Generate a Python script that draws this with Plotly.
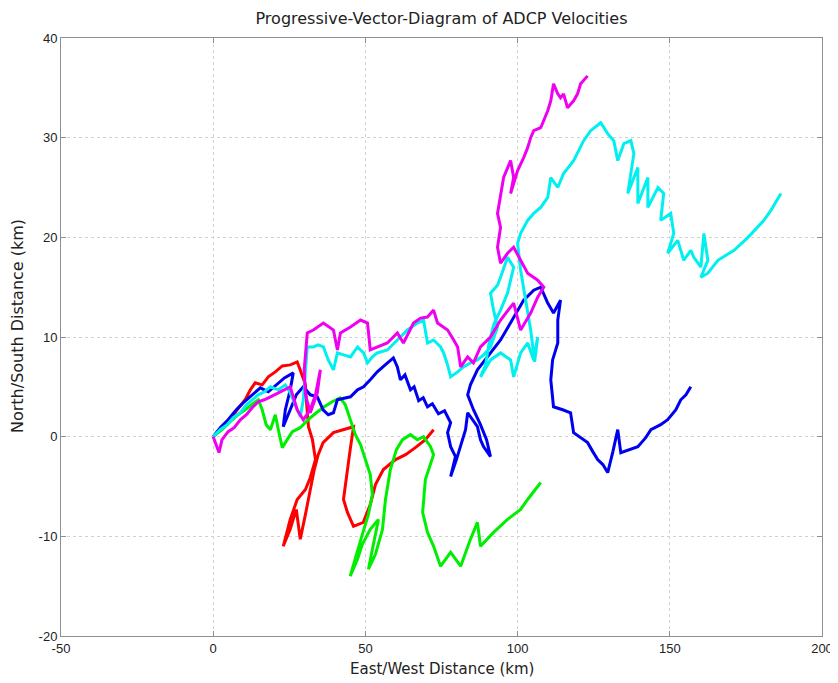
import plotly.graph_objects as go

# East/West (x, km) and North/South (y, km) distances for each record
red_x = [0.0, 2.9, 5.6, 7.9, 10.5, 12.2, 13.8, 16.1, 18.1, 20.4, 22.7, 25.3, 27.6, 28.6, 30.3, 30.6, 31.3, 32.6, 33.6, 31.9, 30.3, 27.6, 25.3, 23.0, 25.3, 27.3, 28.6, 30.3, 31.9, 33.2, 34.5, 36.1, 39.5, 42.8, 46.1, 45.0, 44.1, 42.8, 44.1, 46.1, 49.3, 51.6, 53.3, 55.9, 59.9, 63.2, 66.4, 69.7, 72.4]
red_y = [0.0, 0.9, 1.7, 2.7, 3.7, 4.7, 5.4, 5.2, 6.0, 6.5, 7.1, 7.2, 7.5, 6.7, 5.2, 3.7, 1.0, -0.3, -2.3, -4.1, -5.3, -6.3, -8.3, -11.0, -9.3, -7.3, -10.3, -7.8, -5.3, -3.3, -1.8, -0.6, 0.4, 0.7, 1.0, -1.3, -3.6, -6.3, -7.6, -9.0, -8.6, -6.8, -4.8, -3.3, -2.3, -1.8, -1.1, -0.3, 0.7]

green_x = [0.0, 2.9, 5.6, 8.2, 10.5, 12.8, 14.8, 16.1, 17.4, 18.8, 20.4, 21.4, 22.7, 24.3, 26.0, 28.6, 31.2, 33.9, 36.5, 39.1, 41.7, 43.4, 45.1, 46.7, 48.4, 50.0, 51.6, 52.3, 51.0, 49.0, 47.0, 45.0, 47.4, 49.0, 51.6, 54.3, 52.3, 51.0, 53.3, 55.6, 56.6, 58.2, 60.2, 62.2, 64.8, 67.1, 69.1, 71.4, 72.4, 69.7, 68.8, 70.4, 72.4, 74.7, 78.0, 81.3, 84.5, 86.8, 87.8, 92.1, 96.7, 101.0, 103.3, 107.6]
green_y = [0.0, 0.7, 1.5, 2.2, 2.7, 3.2, 3.7, 2.7, 1.2, 0.7, 2.2, 0.7, -1.1, -0.3, 0.5, 0.9, 1.7, 2.4, 3.0, 3.5, 3.9, 3.2, 1.7, 0.2, -0.8, -2.3, -3.8, -5.8, -7.8, -9.8, -11.8, -14.0, -12.3, -10.8, -9.3, -8.3, -11.3, -13.3, -11.8, -9.3, -6.3, -3.3, -1.3, -0.3, 0.2, -0.3, 0.0, -1.0, -1.8, -4.3, -7.6, -9.6, -11.0, -13.0, -11.6, -13.0, -10.3, -8.6, -11.0, -9.6, -8.3, -7.3, -6.3, -4.6]

blue_x = [0.0, 2.3, 4.9, 7.6, 10.2, 12.8, 15.5, 18.1, 20.7, 23.4, 26.3, 25.3, 23.7, 23.0, 25.3, 27.3, 29.6, 31.9, 34.2, 36.1, 37.8, 39.5, 40.8, 43.4, 45.1, 47.4, 49.4, 51.6, 53.9, 56.5, 59.2, 60.5, 61.5, 63.0, 64.8, 66.0, 67.5, 69.0, 70.4, 72.0, 74.0, 76.0, 78.0, 77.0, 78.0, 79.6, 78.0, 79.9, 81.3, 82.9, 83.6, 85.2, 86.8, 87.8, 88.8, 91.1, 89.8, 87.8, 85.5, 83.6, 84.5, 86.8, 90.1, 92.8, 94.4, 96.7, 98.7, 100.3, 102.0, 105.3, 107.6, 109.9, 111.8, 114.1, 113.2, 113.2, 111.5, 110.9, 111.8, 114.8, 117.4, 118.4, 120.7, 123.0, 124.7, 126.3, 128.0, 129.6, 131.3, 132.9, 133.9, 136.5, 139.5, 142.1, 143.8, 147.0, 149.3, 152.0, 153.6, 155.3, 156.9]
blue_y = [0.0, 0.9, 1.7, 2.7, 3.5, 4.2, 4.9, 4.5, 5.2, 5.9, 6.4, 4.7, 2.7, 1.0, 2.7, 4.2, 5.0, 4.2, 4.0, 2.7, 2.2, 2.4, 3.7, 3.9, 4.0, 4.7, 5.0, 5.7, 6.5, 7.2, 7.9, 7.0, 5.7, 6.2, 4.7, 5.0, 3.6, 3.9, 3.0, 3.3, 2.3, 2.6, 1.4, 0.4, -1.0, -2.0, -4.0, -2.3, -1.0, 0.7, 2.4, 1.7, 1.0, -0.3, -1.0, -2.0, -0.3, 1.2, 2.7, 4.2, 5.2, 6.7, 8.0, 9.0, 9.7, 10.9, 12.0, 12.9, 13.7, 14.7, 15.0, 13.4, 12.4, 13.7, 11.7, 9.4, 7.7, 5.7, 3.0, 2.7, 2.4, 0.4, -0.1, -0.6, -1.5, -2.3, -2.8, -3.6, -1.5, 0.7, -1.6, -1.3, -1.0, -0.1, 0.7, 1.2, 1.7, 2.7, 3.7, 4.2, 5.0]

cyan_x = [0.0, 2.3, 4.6, 6.6, 8.9, 10.9, 12.8, 14.8, 16.8, 18.8, 21.4, 23.7, 25.3, 27.0, 28.6, 29.6, 30.3, 30.9, 32.9, 34.5, 36.2, 37.8, 39.5, 40.8, 42.8, 45.1, 47.4, 49.4, 50.7, 52.3, 53.9, 57.2, 60.5, 63.8, 67.1, 69.1, 70.4, 72.4, 74.7, 75.7, 77.0, 78.0, 80.3, 82.2, 84.5, 86.8, 88.8, 91.1, 93.4, 92.1, 91.1, 93.4, 94.4, 96.7, 98.7, 96.7, 94.4, 92.1, 90.5, 89.5, 87.8, 91.1, 94.4, 97.7, 98.7, 101.0, 103.3, 105.3, 106.6, 105.6, 104.3, 102.6, 101.0, 100.0, 101.0, 103.3, 105.3, 107.6, 109.9, 110.9, 113.2, 115.1, 118.4, 121.7, 124.0, 127.3, 129.6, 131.6, 132.9, 134.9, 137.2, 138.2, 136.2, 139.5, 139.5, 142.8, 142.8, 146.1, 148.0, 147.0, 150.3, 151.3, 149.3, 152.6, 154.6, 156.9, 157.9, 160.2, 161.2, 162.5, 160.2, 162.5, 165.8, 171.1, 175.7, 180.9, 183.2, 186.5]
cyan_y = [0.0, 0.7, 1.2, 1.9, 2.4, 3.2, 3.7, 4.2, 4.5, 5.0, 4.7, 5.2, 4.4, 3.2, 2.0, 3.7, 6.2, 9.0, 9.0, 9.2, 9.0, 7.7, 6.7, 8.4, 8.2, 8.0, 9.0, 8.4, 7.4, 8.0, 8.4, 8.7, 9.7, 10.7, 11.4, 11.7, 9.4, 9.7, 9.0, 8.4, 7.2, 6.0, 6.5, 7.0, 7.4, 7.7, 8.2, 9.0, 11.0, 12.7, 14.4, 15.2, 16.0, 18.0, 17.0, 14.4, 12.7, 11.2, 9.2, 7.2, 6.0, 7.7, 8.4, 7.7, 6.0, 8.4, 9.4, 7.7, 10.0, 7.5, 10.7, 13.7, 16.7, 19.4, 20.4, 21.7, 22.4, 23.0, 24.0, 26.0, 25.0, 26.4, 27.7, 29.7, 30.7, 31.5, 30.4, 29.7, 27.7, 29.4, 29.7, 28.4, 24.4, 27.0, 23.4, 26.0, 23.0, 25.0, 24.4, 21.7, 22.4, 20.4, 18.4, 19.7, 17.7, 18.7, 18.0, 17.0, 20.4, 17.7, 16.0, 16.4, 17.7, 18.7, 20.0, 21.7, 22.7, 24.4]

magenta_x = [0.0, 1.0, 1.9, 2.9, 4.9, 6.9, 8.9, 10.9, 12.8, 14.8, 16.8, 18.8, 22.0, 25.3, 27.6, 29.6, 31.9, 33.6, 35.2, 34.2, 31.9, 30.3, 29.9, 30.9, 32.9, 36.2, 39.5, 40.8, 41.8, 45.1, 48.4, 50.7, 51.6, 53.9, 57.2, 60.5, 62.5, 65.8, 68.1, 70.4, 72.4, 73.7, 77.0, 79.0, 80.3, 81.3, 83.6, 85.5, 87.8, 91.1, 94.4, 98.7, 101.0, 104.3, 106.6, 108.6, 106.6, 103.3, 101.0, 98.7, 96.7, 94.4, 93.4, 94.4, 93.4, 94.4, 95.4, 97.7, 98.7, 97.7, 100.0, 102.0, 103.3, 104.3, 105.3, 107.6, 108.6, 109.9, 110.9, 111.8, 113.2, 114.1, 115.1, 116.4, 118.4, 119.7, 120.7, 123.0]
magenta_y = [0.0, -0.8, -1.6, -0.3, 0.5, 0.9, 1.7, 2.2, 2.9, 3.5, 3.7, 4.0, 4.5, 5.0, 2.7, 1.7, 2.7, 4.2, 6.7, 4.4, 2.4, 4.2, 6.7, 10.4, 10.7, 11.4, 10.7, 8.7, 10.4, 11.0, 11.7, 11.4, 8.7, 9.0, 9.4, 10.4, 9.4, 11.4, 11.9, 12.0, 12.7, 11.4, 10.7, 9.7, 9.0, 7.0, 8.0, 7.4, 9.0, 10.0, 11.7, 13.4, 10.7, 12.4, 14.0, 15.0, 15.7, 16.4, 17.7, 19.0, 18.4, 17.4, 19.0, 21.0, 22.4, 24.4, 26.0, 27.7, 26.0, 24.4, 26.7, 28.0, 29.0, 30.0, 30.7, 31.0, 31.7, 32.7, 33.7, 35.4, 34.4, 34.0, 34.4, 33.0, 33.7, 34.4, 35.4, 36.2]

x_ticks = [-50, 0, 50, 100, 150, 200]
y_ticks = [-20, -10, 0, 10, 20, 30, 40]

series = [
    (red_x, red_y, "#ff0000"),
    (green_x, green_y, "#00ee00"),
    (blue_x, blue_y, "#0000f0"),
    (cyan_x, cyan_y, "#00f0f0"),
    (magenta_x, magenta_y, "#f000f0"),
]

fig = go.Figure()
for xs, ys, col in series:
    fig.add_trace(go.Scatter(x=xs, y=ys, mode="lines",
                             line=dict(color=col, width=3),
                             showlegend=False, hoverinfo="skip"))

tick_font = "Liberation Sans, Arial, sans-serif"
label_font = "DejaVu Sans, Liberation Sans, sans-serif"
axis_common = dict(
    showline=True, linecolor="#8f8f8f", linewidth=1, mirror="ticks",
    ticks="inside", ticklen=5, tickcolor="#8f8f8f",
    showgrid=True, gridcolor="#d2d2d2", griddash="dot", gridwidth=1,
    zeroline=False, automargin=False,
    tickfont=dict(family=tick_font, size=13, color="#222222"),
)

fig.update_xaxes(range=[-50, 200], tickvals=x_ticks,
                 ticktext=[str(v) for v in x_ticks], **axis_common)
fig.update_yaxes(range=[-20, 40], tickvals=y_ticks,
                 ticktext=[str(v) for v in y_ticks], **axis_common)

# the page body adds an 8px offset at top/left, so the figure is 8px smaller
W, H = 830, 675
L, R, T, B = 53, 16, 30, 47
plot_h = H - T - B

fig.update_layout(
    width=W, height=H,
    margin=dict(l=L, r=R, t=T, b=B),
    paper_bgcolor="white", plot_bgcolor="white",
    title=dict(text="Progressive-Vector-Diagram of ADCP Velocities",
               x=0.5, xref="paper", xanchor="center",
               y=1 - 10 / H, yanchor="middle",
               font=dict(family=label_font, size=16, color="#222222")),
    annotations=[
        dict(text="East/West Distance (km)", xref="paper", yref="paper",
             x=0.5, y=-33 / plot_h, xanchor="center", yanchor="middle",
             showarrow=False,
             font=dict(family=label_font, size=15, color="#222222")),
        dict(text="North/South Distance (km)", xref="paper", yref="paper",
             x=-44 / (W - L - R), y=(636 - 326) / plot_h, xanchor="center", yanchor="middle",
             textangle=-90, showarrow=False,
             font=dict(family=label_font, size=16, color="#222222")),
    ],
)

fig.write_html("out.html")
